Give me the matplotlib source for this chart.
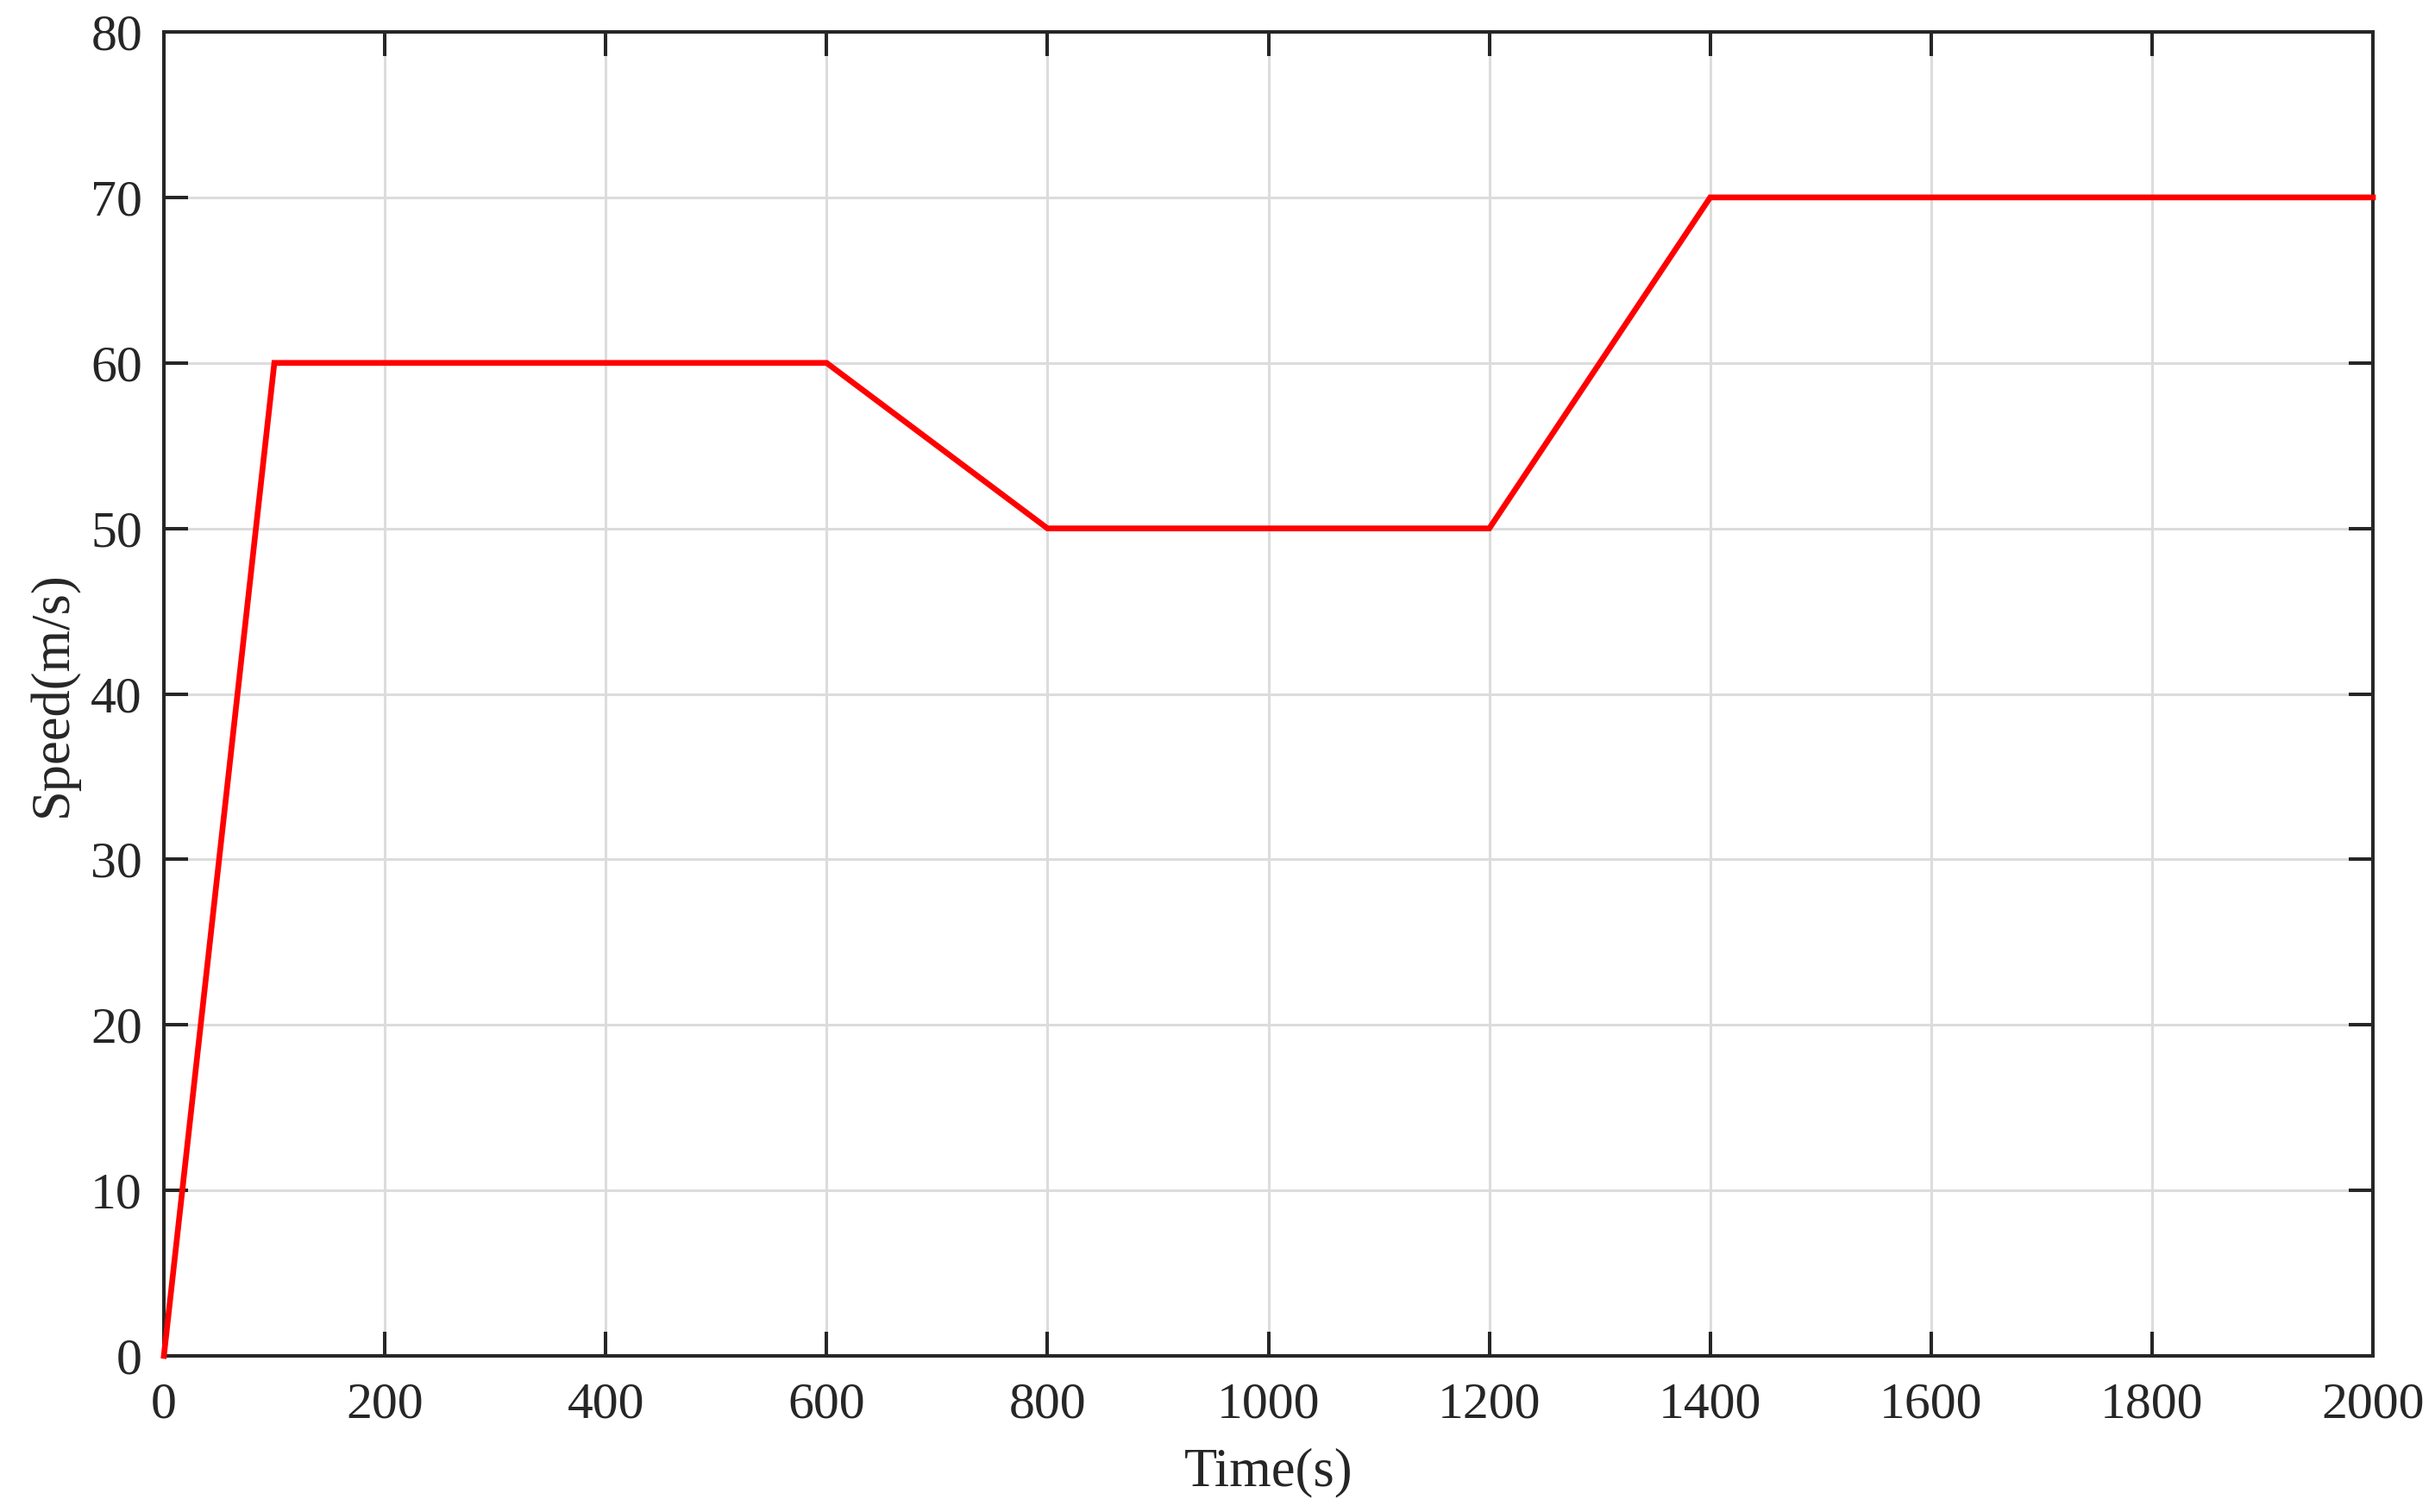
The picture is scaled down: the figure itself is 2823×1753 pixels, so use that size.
import matplotlib
matplotlib.use('Agg')
import matplotlib.pyplot as plt

# speed profile (breakpoints)
time_s = [0, 100, 600, 800, 1200, 1400, 2000]
speed = [0, 60, 60, 50, 50, 70, 70]

x_ticks = list(range(0, 2001, 200))
y_ticks = list(range(0, 81, 10))

plt.rcParams['font.family'] = ['Liberation Serif', 'DejaVu Serif']
plt.rcParams['font.size'] = 43

DPI = 100
fig = plt.figure(figsize=(28.23, 17.53), dpi=DPI)
W, H = 2823, 1753
ax = fig.add_axes([190 / W, 1 - 1572 / H, (2751 - 190) / W, (1572 - 37) / H])

ax.plot(time_s, speed, color='#ff0000', linewidth=4.8, solid_joinstyle='miter', clip_on=False, zorder=3)

ax.set_xlim(0, 2000)
ax.set_ylim(0, 80)
ax.set_xticks(x_ticks)
ax.set_yticks(y_ticks)

ax.grid(True, color='#dcdcdc', linewidth=2.2)
ax.set_axisbelow(True)
for s in ax.spines.values():
    s.set_color('#262626')
    s.set_linewidth(2.9)
ax.tick_params(direction='in', length=20, width=2.9, color='#262626',
               labelcolor='#262626', top=True, right=True)
ax.tick_params(axis='x', pad=22)
ax.tick_params(axis='y', pad=18)

ax.set_xlabel('Time(s)', color='#262626', fontsize=45, labelpad=16)
ax.set_ylabel('Speed(m/s)', color='#262626', fontsize=45, labelpad=10)

fig.savefig('out.png', dpi=DPI)
